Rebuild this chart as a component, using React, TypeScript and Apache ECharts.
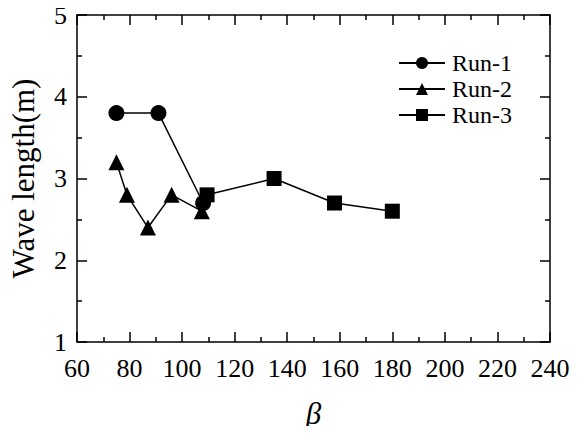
import React, { useEffect, useRef } from "react";
import * as echarts from "echarts";

const seriesNames = ["Run-1", "Run-2", "Run-3"];
const run1: [number, number][] = [[75, 3.8], [91, 3.8], [108, 2.7]];
const run2: [number, number][] = [[75, 3.2], [79, 2.8], [87, 2.4], [96, 2.8], [107.5, 2.6]];
const run3: [number, number][] = [[109.5, 2.8], [135, 3.0], [158, 2.7], [180, 2.6]];
const symbols = ["circle", "triangle", "rect"];
const xTitle = "β";
const yTitle = "Wave length(m)";

const FONT = "'Liberation Serif', 'Times New Roman', serif";

export default function App() {
  const ref = useRef<HTMLDivElement>(null);
  useEffect(() => {
    if (!ref.current) return;
    const chart = echarts.init(ref.current, undefined, { renderer: "svg" });
    const axisLine = { show: true, lineStyle: { color: "#000", width: 1.5 } };
    const tick = { show: true, inside: true, length: 10, lineStyle: { color: "#000", width: 1.5 } };
    const minor = { show: true, splitNumber: 2, length: 5, lineStyle: { color: "#000", width: 1.5 } };
    const datas = [run1, run2, run3];
    chart.setOption({
      animation: false,
      backgroundColor: "#fff",
      grid: { left: 76, right: 29, top: 15, bottom: 87 },
      legend: {
        orient: "vertical",
        left: 393,
        top: 46,
        itemWidth: 46,
        itemHeight: 15,
        itemGap: 2,
        data: seriesNames,
        textStyle: { fontFamily: FONT, fontSize: 24, lineHeight: 24, color: "#000", padding: [0, 0, 0, 2] },
      },
      xAxis: [
        {
          type: "value",
          min: 60,
          max: 240,
          interval: 20,
          position: "bottom",
          axisLine,
          axisTick: tick,
          minorTick: minor,
          splitLine: { show: false },
          axisLabel: { fontFamily: FONT, fontSize: 26, color: "#000", margin: 13 },
          name: xTitle,
          nameLocation: "middle",
          nameGap: 56,
          nameTextStyle: { fontFamily: FONT, fontSize: 31, fontStyle: "italic", color: "#000" },
        },
        {
          type: "value",
          min: 60,
          max: 240,
          interval: 20,
          position: "top",
          axisLine,
          axisTick: tick,
          minorTick: minor,
          splitLine: { show: false },
          axisLabel: { show: false },
        },
      ],
      yAxis: [
        {
          type: "value",
          min: 1,
          max: 5,
          interval: 1,
          position: "left",
          axisLine,
          axisTick: tick,
          minorTick: minor,
          splitLine: { show: false },
          axisLabel: { fontFamily: FONT, fontSize: 26, color: "#000", margin: 10 },
          name: yTitle,
          nameLocation: "middle",
          nameGap: 38,
          nameTextStyle: { fontFamily: FONT, fontSize: 31, color: "#000" },
        },
        {
          type: "value",
          min: 1,
          max: 5,
          interval: 1,
          position: "right",
          axisLine,
          axisTick: tick,
          minorTick: minor,
          splitLine: { show: false },
          axisLabel: { show: false },
        },
      ],
      series: seriesNames.map((name, i) => ({
        name,
        type: "line",
        data: datas[i],
        symbol: symbols[i],
        symbolSize: i === 2 ? 15 : 16,
        color: "#000",
        lineStyle: { color: "#000", width: 1.5 },
        itemStyle: { color: "#000" },
      })),
    });
    return () => chart.dispose();
  }, []);
  return <div ref={ref} style={{ width: 579, height: 434, margin: -8 }} />;
}
